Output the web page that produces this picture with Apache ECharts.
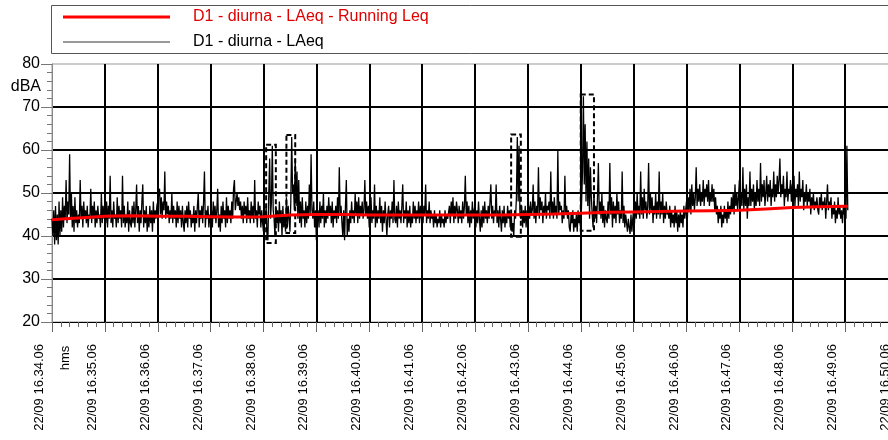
<!DOCTYPE html>
<html>
<head>
<meta charset="utf-8">
<script src="https://cdn.jsdelivr.net/npm/echarts@6/dist/echarts.min.js"></script>
<style>
html,body{margin:0;padding:0;background:#fff;}
#chart{width:888px;height:440px;}
</style>
</head>
<body>
<div id="chart"></div>
<script>
// ---- data (time in seconds from 22/09 16.34.06) ----
const tickLabels = ['22/09 16.34.06','22/09 16.35.06','22/09 16.36.06','22/09 16.37.06','22/09 16.38.06',
  '22/09 16.39.06','22/09 16.40.06','22/09 16.41.06','22/09 16.42.06','22/09 16.43.06','22/09 16.44.06',
  '22/09 16.45.06','22/09 16.46.06','22/09 16.47.06','22/09 16.48.06','22/09 16.49.06','22/09 16.50.06'];
const seriesNames = ['D1 - diurna - LAeq - Running Leq', 'D1 - diurna - LAeq'];
const laeqStep = 1; // s between samples
const laeq = [
  44,40,46,38,47,39,45,38,48,40,46,41,49,42,47,44,53,43,48,45,59,44,50,42,47,41,49,43,46,42,
  45,43,53,44,47,42,48,44,46,43,47,42,45,44,51,43,47,44,48,42,46,43,47,44,45,42,50,43,47,44,
  46,43,48,42,47,44,54,43,46,42,48,44,45,42,49,43,47,44,46,42,54,43,47,42,45,43,48,41,46,43,
  42,47,43,48,42,46,52,43,47,41,46,43,48,52,42,46,43,47,41,45,42,47,43,46,41,48,43,46,44,47,
  48,50,51,45,49,44,48,46,55,44,48,45,47,43,46,44,50,43,47,44,46,42,48,43,47,44,46,42,47,43,
  41,46,43,47,42,48,44,46,42,45,43,47,41,46,43,47,50,42,46,44,47,43,48,55,42,46,44,47,42,45,
  43,46,42,48,44,47,43,46,51,42,45,41,47,43,48,44,46,42,49,43,47,44,46,43,48,44,51,53,46,48,
  50,47,49,46,48,44,47,43,48,45,47,43,49,44,46,43,48,44,47,43,53,44,46,42,48,45,47,42,46,43,
  41,46,43,47,40,39,50,58,44,48,61,46,44,40,47,43,46,41,48,43,46,40,47,42,45,41,49,42,47,44,
  41,48,63,50,52,46,58,47,55,44,53,43,48,42,49,44,46,42,48,43,47,44,52,45,59,46,44,48,42,46,
  39,44,46,42,48,43,47,44,50,42,46,43,47,44,49,45,47,43,48,42,46,44,47,43,49,44,56,45,47,43,
  40,46,39,47,53,40,44,41,46,43,48,44,46,43,50,45,48,43,49,44,47,45,48,44,46,53,45,48,44,47,
  42,47,49,43,46,44,52,42,47,43,46,44,49,43,47,41,46,43,48,44,40,45,47,42,46,44,48,43,53,44,
  43,47,42,48,44,46,43,47,52,43,46,44,48,42,46,43,47,42,45,43,48,44,47,43,46,44,48,43,47,44,
  46,43,47,45,52,43,46,44,48,43,46,44,45,42,46,43,45,42,44,43,46,42,45,43,44,42,46,43,45,44,
  44,47,43,48,45,49,43,47,44,48,46,43,47,44,46,43,48,44,47,54,45,48,43,47,42,46,43,48,44,46,
  47,42,46,43,48,44,41,46,42,47,43,48,44,46,43,47,44,48,52,44,47,43,46,45,52,43,46,42,47,44,
  41,46,43,47,42,45,43,47,44,46,42,45,41,43,40,46,44,49,63,48,61,45,44,47,42,46,43,47,42,46,
  43,47,44,48,45,46,52,44,48,43,47,45,56,44,49,46,48,43,47,45,50,44,47,46,48,44,55,45,48,44,
  49,45,47,44,60,45,48,46,47,43,46,44,54,45,47,44,46,42,41,45,43,46,41,44,42,45,41,46,43,45,
  41,48,55,72.5,52,66,48,62,47,58,44,56,49,45,42,50,44,47,43,49,57,45,48,44,50,43,47,42,46,44,
  43,48,44,57,45,49,42,48,44,47,43,50,45,48,43,46,44,55,43,47,42,45,43,41,44,42,40.5,45,41,44,
  46,43,48,44,50,45,47,44,55,45,49,44,51,46,48,44,47,57,45,50,46,49,43,47,45,50,44,48,45,55,
  44,48,45,50,43,47,44,48,45,46,44,47,42,46,43,45,42,47,43,46,41,45,42,46,43,45,42,47,44,46,
  48,44,49,46,51,45,52,47,50,46,49,56,47,51,48,52,47,50,48,53,47,51,49,52,48,53,47,50,48,52,
  48,51,46,49,45,47,43,46,44,47,42,45,43,47,44,46,43,48,44,47,45,49,46,50,45,52,47,50,46,49,
  53,46,50,47,56,46,51,47,52,44,49,47,55,47,51,48,52,46,50,47,53,48,51,47,57,48,52,49,53,47,
  50,54,48,52,49,53,47,51,49,55,48,52,49,54,50,53,58,49,52,50,54,47,51,49,55,48,51,50,53,48,
  52,48,54,47,51,49,52,47,55,48,51,49,53,46,50,48,52,47,50,48,51,45,49,47,50,46,48,47,49,46,
  45,49,47,50,46,48,47,49,44,48,52,46,48,47,49,44,47,45,48,43,46,44,49,45,47,44,46,43,47,45,
  48,44,61,46
];
const runningT   = [0,15,30,60,90,120,150,180,210,240,270,300,330,360,390,420,450,480,510,540,570,600,630,660,690,720,750,780,810,840,870,900,903];
const runningLeq = [43.8,44.0,44.2,44.6,44.7,44.6,44.6,44.5,44.4,44.5,44.9,45.0,45.0,44.9,44.9,44.9,44.9,44.9,44.9,45.0,45.1,45.3,45.5,45.6,45.7,45.8,45.9,46.0,46.3,46.6,46.8,46.9,46.9];
// event markers: [start s, end s, low dB, high dB]
const events = [
  [243, 254, 38.4, 61.2],
  [266, 276, 40.7, 63.5],
  [521, 532, 39.8, 63.6],
  [600, 615, 41.2, 72.9]
];

const FONT = '"Liberation Sans", Arial, sans-serif';
const laeqData = laeq.map((v, i) => [i * laeqStep, v]);
const runData = runningT.map((t, i) => [t, runningLeq[i]]);

const chart = echarts.init(document.getElementById('chart'), null, {renderer: 'canvas'});
chart.setOption({
  animation: false,
  backgroundColor: '#fff',
  textStyle: {fontFamily: FONT},
  grid: {left: 52, right: -10, top: 64, bottom: 118, containLabel: false, outerBoundsMode: 'none',
         show: true, borderColor: '#999', borderWidth: 1},
  legend: [
    {data: [{name: seriesNames[0], textStyle: {color: '#e00000'}}], left: 63, top: 7, padding: 0,
     icon: 'rect', itemWidth: 107, itemHeight: 3, selectedMode: false,
     textStyle: {fontSize: 16, lineHeight: 20, fontFamily: FONT, padding: [0, 0, 0, 18]}},
    {data: [{name: seriesNames[1], itemStyle: {color: '#999'}, textStyle: {color: '#000'}}], left: 63, top: 32, padding: 0,
     icon: 'rect', itemWidth: 107, itemHeight: 2, selectedMode: false,
     textStyle: {fontSize: 16, lineHeight: 20, fontFamily: FONT, padding: [0, 0, 0, 18]}}
  ],
  xAxis: {
    type: 'value', min: 0, max: 960, interval: 60,
    axisLine: {lineStyle: {color: '#000', width: 1}},
    axisTick: {length: 10, lineStyle: {color: '#666'}},
    minorTick: {show: true, splitNumber: 6, length: 5, lineStyle: {color: '#666'}},
    splitLine: {show: true, showMinLine: false, showMaxLine: true, lineStyle: {color: '#000', width: 2}},
    axisLabel: {rotate: 90, margin: 22, fontSize: 13, color: '#000', fontFamily: FONT,
      showMaxLabel: true, showMinLabel: true, verticalAlign: 'bottom', lineHeight: 25,
      formatter: v => tickLabels[Math.round(v / 60)] || ''}
  },
  yAxis: {
    type: 'value', min: 20, max: 80, interval: 10,
    axisLine: {show: true, lineStyle: {color: '#888', width: 1}},
    axisTick: {show: true, length: 11, lineStyle: {color: '#777'}},
    minorTick: {show: true, splitNumber: 5, length: 5, lineStyle: {color: '#777'}},
    splitLine: {show: true, showMinLine: false, showMaxLine: false, lineStyle: {color: '#000', width: 2}},
    axisLabel: {fontSize: 16, margin: 12, color: '#000', fontFamily: FONT}
  },
  graphic: [
    {type: 'rect', shape: {x: 51.5, y: 5.5, width: 900, height: 48}, style: {fill: 'none', stroke: '#555', lineWidth: 1}, z: -1},
    {type: 'text', x: 41, y: 87, style: {text: 'dBA', fontSize: 16, fontFamily: FONT, fill: '#000', align: 'right', verticalAlign: 'middle'}},
    {type: 'text', x: 65, y: 358, rotation: Math.PI / 2, style: {text: 'hms', fontSize: 13, fontFamily: FONT, fill: '#000', align: 'center', verticalAlign: 'middle'}}
  ],
  series: [
    {
      name: seriesNames[1], type: 'line', data: laeqData, showSymbol: false, symbol: 'none',
      color: '#999', lineStyle: {color: '#000', width: 1.3}, sampling: 'none', z: 3,
      markArea: {
        silent: true,
        itemStyle: {color: 'rgba(0,0,0,0)', borderColor: '#000', borderWidth: 2, borderType: [5, 3]},
        data: events.map(e => [{xAxis: e[0], yAxis: e[3]}, {xAxis: e[1], yAxis: e[2]}])
      }
    },
    {
      name: seriesNames[0], type: 'line', data: runData, showSymbol: false, symbol: 'none',
      color: '#ff0000', lineStyle: {color: '#ff0000', width: 3}, z: 4
    }
  ]
});
</script>
</body>
</html>
